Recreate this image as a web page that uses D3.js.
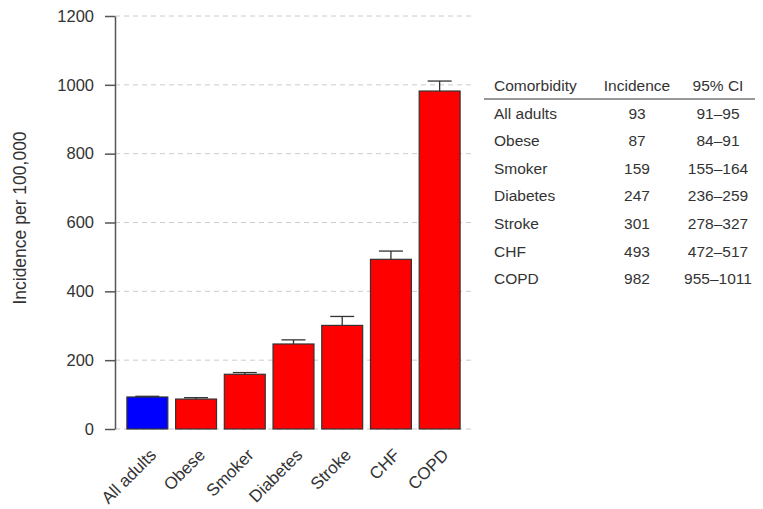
<!DOCTYPE html>
<html>
<head>
<meta charset="utf-8">
<script src="https://cdn.jsdelivr.net/npm/d3@7"></script>
<style>
  body { margin: 0; background: #fff; }
  svg text { font-family: "Liberation Sans", Arial, sans-serif; fill: #333; }
</style>
</head>
<body>
<div id="chart"></div>
<script>
// data
const categories = ["All adults", "Obese", "Smoker", "Diabetes", "Stroke", "CHF", "COPD"];
const incidence = [93, 87, 159, 247, 301, 493, 982];
const ciLow = [91, 84, 155, 236, 278, 472, 955];
const ciHigh = [95, 91, 164, 259, 327, 517, 1011];
const yTicks = [0, 200, 400, 600, 800, 1000, 1200];
const tableHeaders = ["Comorbidity", "Incidence", "95% CI"];

const width = 763, height = 509;

const svg = d3.select("#chart")
  .append("svg")
  .attr("width", width)
  .attr("height", height);

// scales
const x = d3.scaleBand()
  .domain(categories)
  .range([123, 464])
  .paddingInner(0.16)
  .paddingOuter(0.08);

const y = d3.scaleLinear()
  .domain([0, 1200])
  .range([429, 16]);

// dashed grid lines
svg.append("g")
  .selectAll("line")
  .data(yTicks)
  .join("line")
  .attr("x1", 115)
  .attr("x2", 474)
  .attr("y1", d => y(d))
  .attr("y2", d => y(d))
  .attr("stroke", "#ccc")
  .attr("stroke-width", 1)
  .attr("stroke-dasharray", "5,4");

// y axis
const yAxis = svg.append("g")
  .attr("transform", "translate(115,0)")
  .call(d3.axisLeft(y).tickValues(yTicks).tickFormat(d3.format("d"))
    .tickSize(10).tickSizeOuter(0).tickPadding(11));
yAxis.select(".domain").attr("stroke", "#555").attr("stroke-width", 1.5);
yAxis.selectAll(".tick line").attr("stroke", "#555").attr("stroke-width", 1.5);
yAxis.selectAll(".tick text")
  .style("font-size", "16.5px")
  .attr("fill", "#333");

// y label
svg.append("text")
  .attr("transform", "translate(26,218) rotate(-90)")
  .attr("text-anchor", "middle")
  .style("font-size", "17.5px")
  .text("Incidence per 100,000");

// error bars (upper part visible above bar)
const err = svg.append("g");
err.selectAll("line.stem")
  .data(categories)
  .join("line")
  .attr("class", "stem")
  .attr("x1", d => x(d) + x.bandwidth() / 2)
  .attr("x2", d => x(d) + x.bandwidth() / 2)
  .attr("y1", (d, i) => y(ciLow[i]))
  .attr("y2", (d, i) => y(ciHigh[i]))
  .attr("stroke", "#333")
  .attr("stroke-width", 1.3);
err.selectAll("line.cap")
  .data(categories)
  .join("line")
  .attr("class", "cap")
  .attr("x1", d => x(d) + x.bandwidth() / 2 - 12)
  .attr("x2", d => x(d) + x.bandwidth() / 2 + 12)
  .attr("y1", (d, i) => y(ciHigh[i]))
  .attr("y2", (d, i) => y(ciHigh[i]))
  .attr("stroke", "#333")
  .attr("stroke-width", 1.3);

// bars
svg.append("g")
  .selectAll("rect")
  .data(categories)
  .join("rect")
  .attr("x", d => x(d))
  .attr("y", (d, i) => y(incidence[i]))
  .attr("width", x.bandwidth())
  .attr("height", (d, i) => y(0) - y(incidence[i]))
  .attr("fill", (d, i) => i === 0 ? "#0000ff" : "#ff0000")
  .attr("stroke", "#333")
  .attr("stroke-width", 1.2);

// x labels rotated
svg.append("g")
  .selectAll("text")
  .data(categories)
  .join("text")
  .attr("transform", d => `translate(${x(d) + x.bandwidth() / 2 + 10},${456}) rotate(-45)`)
  .attr("text-anchor", "end")
  .style("font-size", "17px")
  .text(d => d);

// table
const colX = [494, 637, 718];
const table = svg.append("g");
table.selectAll("text.head")
  .data(tableHeaders)
  .join("text")
  .attr("class", "head")
  .attr("x", (d, i) => colX[i])
  .attr("y", 91)
  .attr("text-anchor", (d, i) => i === 0 ? "start" : "middle")
  .style("font-size", "15.5px")
  .text(d => d);

table.append("line")
  .attr("x1", 484)
  .attr("x2", 755)
  .attr("y1", 99)
  .attr("y2", 99)
  .attr("stroke", "#333")
  .attr("stroke-width", 1.2);

const rowY = i => 118.5 + i * 27.6;
categories.forEach((c, i) => {
  const cells = [c, String(incidence[i]), ciLow[i] + "\u2013" + ciHigh[i]];
  table.selectAll(null)
    .data(cells)
    .enter()
    .append("text")
    .attr("x", (d, j) => colX[j])
    .attr("y", rowY(i))
    .attr("text-anchor", (d, j) => j === 0 ? "start" : "middle")
    .style("font-size", "15.5px")
    .text(d => d);
});
</script>
</body>
</html>
